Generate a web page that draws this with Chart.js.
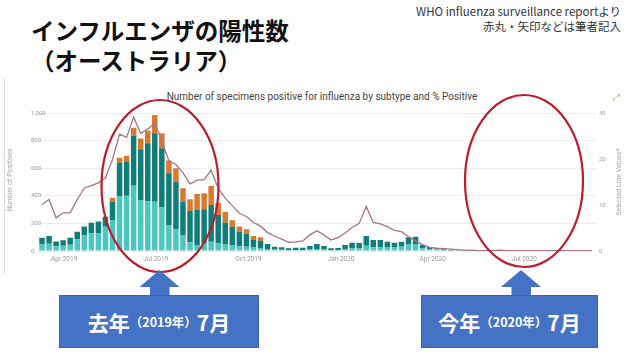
<!DOCTYPE html>
<html>
<head>
<meta charset="utf-8">
<script src="https://cdn.jsdelivr.net/npm/chart.js@4.4.1/dist/chart.umd.min.js"></script>
<style>
  html, body { margin: 0; padding: 0; background: #fff; }
  body { width: 630px; height: 352px; position: relative; overflow: hidden; font-family: "Noto Sans CJK JP", sans-serif; }
  .abs { position: absolute; white-space: nowrap; }
  .title { left: 31px; font-size: 23.5px; font-weight: 700; line-height: 23.5px; color: #111; }
  .source { right: 9px; font-size: 11.5px; line-height: 12px; color: #333; text-align: right; }
  .chart-title { left: 0; width: 644px; top: 91px; text-align: center; font-family: Roboto, sans-serif; font-size: 10px; color: #444; }
  .axis-title { font-family: Roboto, sans-serif; font-size: 7px; color: #a8a8a8; transform: rotate(-90deg); transform-origin: center center; }
  .callout { background: #4472c4; border: 1px solid #3a63ad; box-sizing: border-box; color: #fff; font-weight: 700;
             display: flex; align-items: center; justify-content: center; }
  .callout .big { font-size: 21px; }
  .callout .small { font-size: 12.5px; }
</style>
</head>
<body>

<div class="abs title" style="top:19px">インフルエンザの陽性数</div>
<div class="abs title" style="top:49px">（オーストラリア）</div>
<div class="abs source" style="top:5px">WHO influenza surveillance reportより</div>
<div class="abs source" style="top:20px">赤丸・矢印などは筆者記入</div>

<div class="abs" style="left:4px;top:78px;width:1px;height:196px;background:#cfe0ee"></div>
<div class="abs chart-title">Number of specimens positive for influenza by subtype and % Positive</div>
<div class="abs" style="left:613px;top:92px;font-family:'DejaVu Sans';font-size:9px;color:#b0b0b0">⤢</div>

<div class="abs" style="left:0;top:80px;width:630px;height:195px">
  <canvas id="fluChart" width="630" height="195"></canvas>
</div>
<div class="abs axis-title" style="left:-23px;top:176px;width:66px;text-align:center">Number of Positives</div>
<div class="abs axis-title" style="left:583px;top:178px;width:72px;text-align:center">Selected Line Values*</div>

<svg class="abs" style="left:0;top:0" width="630" height="352">
  <ellipse cx="160" cy="186" rx="58.5" ry="86" fill="none" stroke="#bb1d2b" stroke-width="2.2"/>
  <ellipse cx="524" cy="181" rx="59" ry="86" fill="none" stroke="#bb1d2b" stroke-width="2.2"/>
  <polygon points="159.5,270 179.5,287 169.5,287 169.5,296 150,296 150,287 139.5,287" fill="#4472c4"/>
  <polygon points="521,270 541,287 531,287 531,296 511.5,296 511.5,287 501,287" fill="#4472c4"/>
</svg>

<div class="abs callout" style="left:59px;top:295px;width:200px;height:53px">
  <span class="big">去年</span><span class="small">（2019年）</span><span class="big">7月</span>
</div>
<div class="abs callout" style="left:421px;top:295px;width:177px;height:53px">
  <span class="big">今年</span><span class="small">（2020年）</span><span class="big">7月</span>
</div>

<script>
// weekly data, first week starting 2019-03-10
const firstWeek = '2019-03-10';

// light turquoise (bottom of the stack)
const seriesLight = [50, 52, 35, 38, 45, 85, 112, 128, 130, 175,
    225, 399, 400, 473, 370, 360, 357, 316, 188, 157,
    116, 63, 43, 55, 67, 56, 50, 40, 35, 30,
    25, 22, 15, 10, 9, 7, 8, 8, 11, 15,
    11, 7, 8, 15, 20, 20, 38, 28, 28, 25,
    25, 30, 48, 50, 20, 14, 10, 6, 4, 3,
    2, 2, 1, 1, 0, 1, 0, 0, 0, 1,
    0, 0, 0, 0, 0, 0, 0, 0, 0];

// dark teal (middle)
const seriesDark = [46, 56, 33, 40, 51, 55, 66, 77, 84, 73,
    132, 241, 245, 363, 367, 420, 496, 428, 375, 345,
    241, 227, 254, 247, 266, 205, 155, 135, 105, 95,
    55, 52, 36, 21, 18, 13, 15, 15, 25, 36,
    25, 13, 14, 28, 40, 38, 71, 52, 52, 42,
    35, 37, 51, 54, 23, 15, 10, 6, 4, 2,
    2, 1, 1, 0, 1, 0, 0, 0, 0, 0,
    0, 0, 0, 0, 0, 0, 0, 0, 0];

// orange (top)
const seriesOrange = [0, 0, 0, 0, 0, 0, 0, 0, 0, 0,
    29, 36, 46, 58, 79, 92, 133, 109, 92, 97,
    97, 85, 116, 116, 138, 89, 80, 47, 38, 32,
    29, 25, 0, 0, 0, 0, 0, 0, 0, 0,
    0, 0, 0, 0, 0, 0, 0, 0, 0, 0,
    0, 0, 0, 0, 0, 0, 0, 0, 0, 0,
    0, 0, 0, 0, 0, 0, 0, 0, 0, 0,
    0, 0, 0, 0, 0, 0, 0, 0, 0];

// % positive (right axis)
const pctPositive = [10.1, 11.2, 7.2, 8.3, 8.3, 11.2, 13.7, 14.2, 14.8, 15.9,
    19.9, 25.4, 24.7, 29.1, 25.6, 26.5, 27.8, 23.8, 19.6, 18.8,
    17.0, 14.6, 15.4, 15.5, 17.6, 13.6, 11.5, 9.8, 8.2, 7.5,
    6.2, 5.4, 4.0, 3.2, 2.6, 1.9, 2.0, 2.2, 3.5, 4.4,
    3.5, 2.4, 2.9, 3.9, 5.1, 6.0, 9.7, 6.2, 5.9, 5.3,
    4.5, 4.2, 3.1, 2.2, 1.4, 0.8, 0.6, 0.5, 0.4, 0.3,
    0.2, 0.2, 0.1, 0.1, 0.1, 0.2, 0.1, 0.1, 0.1, 0.1,
    0.1, 0.1, 0.1, 0.1, 0.1, 0.1, 0.1, 0.1, 0.1];

const tickDates = ['2019-04-01', '2019-07-01', '2019-10-01', '2020-01-01', '2020-04-01', '2020-07-01'];
const tickLabels = ['Apr 2019', 'Jul 2019', 'Oct 2019', 'Jan 2020', 'Apr 2020', 'Jul 2020'];

const DAY = 24 * 3600 * 1000;
const weekOf = d => (Date.parse(d) - Date.parse(firstWeek)) / (7 * DAY);
const tickWeeks = tickDates.map(weekOf);

const toXY = arr => arr.map((v, i) => ({ x: i, y: v }));

const axisFont = { family: 'Roboto', size: 6.5 };

new Chart(document.getElementById('fluChart'), {
    type: 'bar',
    data: {
        datasets: [
            { type: 'line', label: '% Positive', data: toXY(pctPositive), yAxisID: 'y2',
              borderColor: '#a9737f', borderWidth: 1.3, pointRadius: 0, tension: 0, order: 0 },
            { label: 'light', data: toXY(seriesLight), backgroundColor: '#4cc6bf', order: 1 },
            { label: 'dark', data: toXY(seriesDark), backgroundColor: '#107d7b', order: 1 },
            { label: 'orange', data: toXY(seriesOrange), backgroundColor: '#d8792f', order: 1 }
        ]
    },
    options: {
        responsive: false,
        animation: false,
        layout: { padding: { top: 33, left: 31, right: 0, bottom: 0 } },
        datasets: { bar: { barPercentage: 0.78, categoryPercentage: 1 } },
        plugins: { legend: { display: false }, tooltip: { enabled: false } },
        scales: {
            x: {
                type: 'linear', stacked: true, offset: false,
                min: -0.64, max: 78.6,
                grid: { display: false, drawTicks: false },
                border: { display: false },
                afterBuildTicks: s => { s.ticks = tickWeeks.map(v => ({ value: v })); },
                afterFit: s => { s.height = 24; },
                ticks: { autoSkip: false, maxRotation: 0, padding: 4, color: '#9a9a9a', font: axisFont,
                         callback: (v, i) => tickLabels[i] }
            },
            y: {
                stacked: true, min: 0, max: 1000,
                grid: { color: '#ededed', drawTicks: false },
                border: { display: false },
                afterFit: s => { s.width = 6.5; },
                // mirrored so the labels can start left of the plot and stay unclipped
                ticks: { stepSize: 200, mirror: true, padding: -6.5, color: '#9a9a9a',
                         font: { family: 'Roboto', size: 6 },
                         callback: v => v.toLocaleString('en-US') }
            },
            y2: {
                position: 'right', min: 0, max: 30,
                grid: { display: false, drawTicks: false },
                border: { display: false },
                afterFit: s => { s.width = 34; },
                ticks: { stepSize: 10, padding: 3, color: '#9a9a9a', font: { family: 'Roboto', size: 6 } }
            }
        }
    }
});
</script>
</body>
</html>
